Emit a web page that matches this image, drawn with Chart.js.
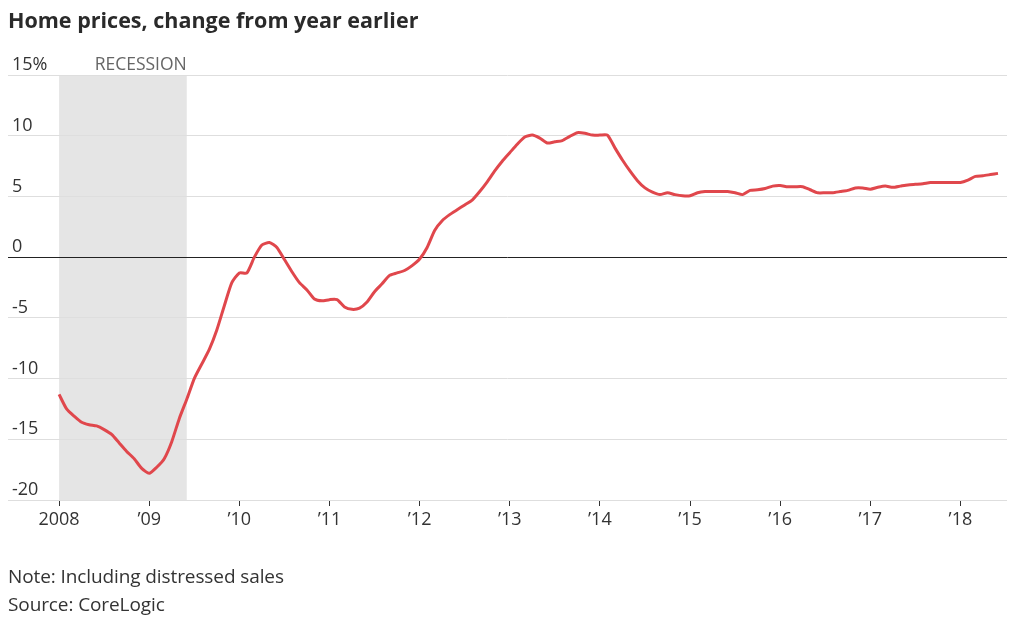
<!DOCTYPE html>
<html>
<head>
<meta charset="utf-8">
<script src="https://cdn.jsdelivr.net/npm/chart.js@4"></script>
<style>
  body { margin: 0; background: #fff; width: 1024px; height: 621px; overflow: hidden; position: relative; font-family: "Open Sans", sans-serif; }
  #caixa { position: absolute; left: 0; top: 0; width: 1024px; height: 621px; }
  .titulo { position: absolute; left: 8px; top: 5px; font-weight: bold; font-size: 21.5px; color: #2a2a2a; }
  .nota { position: absolute; left: 8px; font-size: 19px; color: #333; letter-spacing: -0.1px; }
</style>
</head>
<body>
<div id="caixa"><canvas id="graficoCasas"></canvas></div>
<div class="titulo">Home prices, change from year earlier</div>
<div class="nota" style="top:563px">Note: Including distressed sales</div>
<div class="nota" style="top:591px">Source: CoreLogic</div>
<script>
// monthly values, Jan 2008 .. Jun 2018 (% change from year earlier)
const variacao = [
  -11.3, -12.5, -13.1, -13.6, -13.8, -13.9, -14.2, -14.6, -15.3, -16.0, -16.6, -17.4,
  -17.8, -17.3, -16.6, -15.2, -13.3, -11.7, -10.0, -8.8, -7.6, -6.0, -4.0, -2.1,
  -1.3, -1.3, 0.0, 1.0, 1.2, 0.8, -0.2, -1.2, -2.1, -2.7, -3.45, -3.6,
  -3.5, -3.5, -4.1, -4.3, -4.2, -3.7, -2.85, -2.2, -1.5, -1.3, -1.1, -0.7,
  -0.15, 0.8, 2.2, 3.0, 3.5, 3.9, 4.3, 4.7, 5.4, 6.2, 7.1, 7.9,
  8.6, 9.3, 9.9, 10.05, 9.8, 9.4, 9.5, 9.6, 9.95, 10.25, 10.2, 10.05,
  10.05, 10.05, 9.0, 8.0, 7.1, 6.3, 5.7, 5.35, 5.15, 5.3, 5.15, 5.05,
  5.05, 5.3, 5.4, 5.4, 5.4, 5.4, 5.3, 5.15, 5.5, 5.55, 5.65, 5.85,
  5.9, 5.8, 5.8, 5.8, 5.55, 5.3, 5.3, 5.3, 5.4, 5.5, 5.7, 5.7,
  5.6, 5.75, 5.85, 5.75, 5.85, 5.95, 6.0, 6.05, 6.15, 6.15, 6.15, 6.15,
  6.15, 6.35, 6.65, 6.7, 6.8, 6.9
];

// x ticks: month index of each January
const anosPos = [0, 12, 24, 36, 48, 60, 72, 84, 96, 108, 120];
const anosRotulo = ["2008", "\u201909", "\u201910", "\u201911", "\u201912", "\u201913", "\u201914", "\u201915", "\u201916", "\u201917", "\u201918"];

const yTicks = [15, 10, 5, 0, -5, -10, -15, -20];

// recession: Jan 2008 .. Jun 2009 (month index)
const recessao = [0, 17];

const pontos = variacao.map((v, i) => ({ x: i, y: v }));

const faixaRecessao = {
    id: "faixaRecessao",
    beforeDraw(chart) {
        const { ctx, chartArea, scales } = chart;
        const x0 = scales.x.getPixelForValue(recessao[0]);
        const x1 = scales.x.getPixelForValue(recessao[1]);
        ctx.save();
        ctx.fillStyle = "#e5e5e5";
        ctx.fillRect(x0, chartArea.top, x1 - x0, chartArea.bottom - chartArea.top);
        ctx.fillStyle = "#666";
        ctx.font = "17.5px 'Open Sans', sans-serif";
        ctx.textAlign = "right";
        ctx.textBaseline = "middle";
        ctx.fillText("RECESSION", x1, chartArea.top - 10);
        ctx.restore();
    }
};

const graficoCasas = new Chart(document.getElementById("graficoCasas"), {
    type: "line",
    data: {
        datasets: [
            {
                label: "Home prices",
                data: pontos,
                borderColor: "#e0474c",
                borderWidth: 3,
                pointRadius: 0,
                tension: 0.2,
                fill: false,
            },
        ],
    },
    options: {
        responsive: true,
        maintainAspectRatio: false,
        animation: false,
        layout: { padding: { left: 8, right: 17, top: 75, bottom: 81 } },
        plugins: {
            legend: { display: false },
            tooltip: { enabled: false },
        },
        scales: {
            x: {
                type: "linear",
                min: -6.8,
                max: 126.2,
                afterBuildTicks: (scale) => {
                    scale.ticks = anosPos.map((v) => ({ value: v }));
                },
                afterFit: (scale) => { scale.height = 40; },
                border: { display: false },
                grid: { drawOnChartArea: false, drawTicks: true, tickLength: 6, color: "#333" },
                ticks: {
                    autoSkip: false,
                    maxRotation: 0,
                    padding: 3,
                    color: "#333",
                    font: { family: "'Open Sans'", size: 18 },
                    callback: (v) => anosRotulo[anosPos.indexOf(v)],
                },
            },
            y: {
                min: -20,
                max: 15,
                afterBuildTicks: (scale) => {
                    scale.ticks = yTicks.map((v) => ({ value: v }));
                },
                afterFit: (scale) => { scale.width = 0; },
                border: { display: false },
                grid: {
                    drawTicks: false,
                    color: (c) => (c.tick && c.tick.value === 0 ? "#222" : "#dedede"),
                },
                ticks: {
                    mirror: true,
                    labelOffset: -10,
                    padding: 4,
                    color: "#333",
                    font: { family: "'Open Sans'", size: 18 },
                    callback: (v) => (v === 15 ? "15%" : String(v)),
                },
            },
        },
    },
    plugins: [faixaRecessao],
});
</script>
</body>
</html>
